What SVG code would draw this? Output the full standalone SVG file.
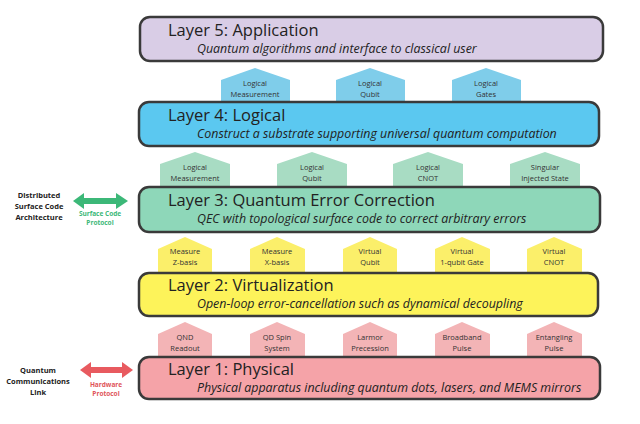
<svg xmlns="http://www.w3.org/2000/svg" width="640" height="424" viewBox="0 0 640 424">
<style>
.layer{stroke:#3a3a3a;stroke-width:2.5}
.t{font-family:"Open Sans","Liberation Sans",sans-serif;font-size:16.5px;fill:#222}
.s{font-family:"Open Sans","Liberation Sans",sans-serif;font-size:12.4px;font-style:italic;fill:#222}
.tab{font-family:"Open Sans","Liberation Sans",sans-serif;font-size:7.5px;fill:#333;text-anchor:middle}
.side{font-family:"Open Sans","Liberation Sans",sans-serif;font-size:7.5px;font-weight:bold;fill:#222;text-anchor:middle}
</style>
<rect width="640" height="424" fill="#fff"/>
<g id="tabs4" fill="#7fcdea">
<path d="M221,80 L255,68 L290,80 L290,102 L221,102Z"/><text class="tab" x="255" y="86">Logical</text><text class="tab" x="255" y="97">Measurement</text>
<path d="M336,80 L370,68 L405,80 L405,102 L336,102Z"/><text class="tab" x="370" y="86">Logical</text><text class="tab" x="370" y="97">Qubit</text>
<path d="M452,80 L486,68 L521,80 L521,102 L452,102Z"/><text class="tab" x="486" y="86">Logical</text><text class="tab" x="486" y="97">Gates</text>
</g>
<g id="tabs3" fill="#a8dcc3">
<path d="M160,164 L195,152 L230,164 L230,187 L160,187Z"/><text class="tab" x="195" y="170">Logical</text><text class="tab" x="195" y="181">Measurement</text>
<path d="M277,164 L312,152 L347,164 L347,187 L277,187Z"/><text class="tab" x="312" y="170">Logical</text><text class="tab" x="312" y="181">Qubit</text>
<path d="M393,164 L428,152 L463,164 L463,187 L393,187Z"/><text class="tab" x="428" y="170">Logical</text><text class="tab" x="428" y="181">CNOT</text>
<path d="M510,164 L545,152 L580,164 L580,187 L510,187Z"/><text class="tab" x="545" y="170">Singular</text><text class="tab" x="545" y="181">Injected State</text>
</g>
<g id="tabs2" fill="#fbef6a">
<path d="M158,249 L185,237 L212,249 L212,273 L158,273Z"/><text class="tab" x="185" y="254">Measure</text><text class="tab" x="185" y="265">Z-basis</text>
<path d="M250,249 L277,237 L305,249 L305,273 L250,273Z"/><text class="tab" x="277" y="254">Measure</text><text class="tab" x="277" y="265">X-basis</text>
<path d="M343,249 L370,237 L397,249 L397,273 L343,273Z"/><text class="tab" x="370" y="254">Virtual</text><text class="tab" x="370" y="265">Qubit</text>
<path d="M435,249 L462,237 L490,249 L490,273 L435,273Z"/><text class="tab" x="462" y="254">Virtual</text><text class="tab" x="462" y="265">1-qubit Gate</text>
<path d="M527,249 L554,237 L582,249 L582,273 L527,273Z"/><text class="tab" x="554" y="254">Virtual</text><text class="tab" x="554" y="265">CNOT</text>
</g>
<g id="tabs1" fill="#f3b4b6">
<path d="M158,334 L185,322 L212,334 L212,357 L158,357Z"/><text class="tab" x="185" y="340">QND</text><text class="tab" x="185" y="351">Readout</text>
<path d="M250,334 L277,322 L305,334 L305,357 L250,357Z"/><text class="tab" x="277" y="340">QD Spin</text><text class="tab" x="277" y="351">System</text>
<path d="M343,334 L370,322 L397,334 L397,357 L343,357Z"/><text class="tab" x="370" y="340">Larmor</text><text class="tab" x="370" y="351">Precession</text>
<path d="M435,334 L462,322 L490,334 L490,357 L435,357Z"/><text class="tab" x="462" y="340">Broadband</text><text class="tab" x="462" y="351">Pulse</text>
<path d="M527,334 L554,322 L582,334 L582,357 L527,357Z"/><text class="tab" x="554" y="340">Entangling</text><text class="tab" x="554" y="351">Pulse</text>
</g>
<g id="layer5"><rect class="layer" x="140" y="17" width="463" height="44" rx="10" fill="#d9cde6" stroke="#777"/><text class="t" x="168" y="36">Layer 5: Application</text><text class="s" x="197" y="53">Quantum algorithms and interface to classical user</text></g>
<g id="layer4"><rect class="layer" x="139" y="102" width="460" height="44" rx="10" fill="#5bc8f0"/><text class="t" x="168" y="121">Layer 4: Logical</text><text class="s" x="197" y="138">Construct a substrate supporting universal quantum computation</text></g>
<g id="layer3"><rect class="layer" x="139" y="187" width="461" height="45" rx="10" fill="#8ed7b9"/><text class="t" x="168" y="206">Layer 3: Quantum Error Correction</text><text class="s" x="197" y="223">QEC with topological surface code to correct arbitrary errors</text></g>
<g id="layer2"><rect class="layer" x="139" y="273" width="459" height="43" rx="10" fill="#fdf35a"/><text class="t" x="168" y="291">Layer 2: Virtualization</text><text class="s" x="197" y="308">Open-loop error-cancellation such as dynamical decoupling</text></g>
<g id="layer1"><rect class="layer" x="139" y="357" width="461" height="42" rx="10" fill="#f5a3a8"/><text class="t" x="168" y="375">Layer 1: Physical</text><text class="s" x="197" y="392">Physical apparatus including quantum dots, lasers, and MEMS mirrors</text></g>
<g id="side-qec"><text class="side" x="39" y="198">Distributed</text><text class="side" x="39" y="209">Surface Code</text><text class="side" x="39" y="220">Architecture</text>
<text class="side" x="100" y="216" style="fill:#3cb878;font-size:6.5px">Surface Code</text><text class="side" x="100" y="225" style="fill:#3cb878;font-size:6.5px">Protocol</text></g>
<g id="side-phys"><text class="side" x="38" y="373">Quantum</text><text class="side" x="38" y="384">Communications</text><text class="side" x="38" y="395">Link</text>
<text class="side" x="106" y="387" style="fill:#e0545a;font-size:6.5px">Hardware</text><text class="side" x="106" y="396" style="fill:#e0545a;font-size:6.5px">Protocol</text></g>
<g id="connectors">
<path d="M73,201 L84,193 L84,198 L116,198 L116,193 L128,201 L116,209 L116,204 L84,204 L84,209Z" fill="#3cb878"/>
<path d="M80,370 L91,362 L91,367 L122,367 L122,362 L133,370 L122,378 L122,373 L91,373 L91,378Z" fill="#e85a5f"/>
</g>
</svg>
